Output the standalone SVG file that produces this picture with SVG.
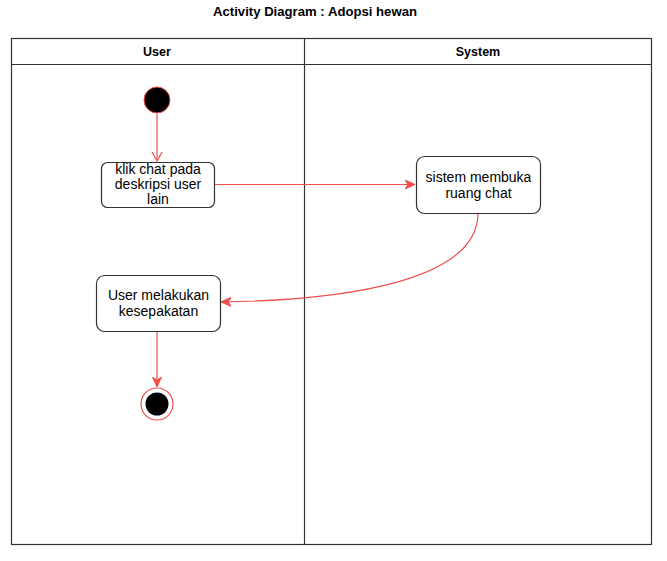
<svg xmlns="http://www.w3.org/2000/svg" width="667" height="561" viewBox="0 0 667 561">
<style>
.lane{fill:none;stroke:#333;stroke-width:1.2}
.hdr{font-family:"Liberation Sans",Arial,sans-serif;font-weight:bold;font-size:12.5px;fill:#000;text-anchor:middle}
.act{fill:#fff;stroke:#333;stroke-width:1.2}
.lbl{font-family:"Liberation Sans",Arial,sans-serif;font-size:14px;fill:#000;text-anchor:middle}
.edge{fill:none;stroke:#f24e4e;stroke-width:1.2}
</style>
<defs>
<marker id="open" markerWidth="12" markerHeight="12" refX="10" refY="6" orient="auto" markerUnits="userSpaceOnUse">
<path d="M1,1 L10,6 L1,11" fill="none" stroke="#f24e4e" stroke-width="1.2"/>
</marker>
<marker id="fill" markerWidth="12" markerHeight="12" refX="10" refY="6" orient="auto" markerUnits="userSpaceOnUse">
<path d="M0,1.5 L10,6 L0,10.5 L3,6 Z" fill="#f24e4e" stroke="#f24e4e" stroke-width="1"/>
</marker>
</defs>
<rect width="667" height="561" fill="#fff"/>
<text x="315" y="16" class="hdr" textLength="204" lengthAdjust="spacingAndGlyphs">Activity Diagram : Adopsi hewan</text>
<g id="lanes">
<rect class="lane" x="11.5" y="38.5" width="640" height="506"/>
<line class="lane" x1="11.5" y1="64.5" x2="651.5" y2="64.5"/>
<line class="lane" x1="304.5" y1="38.5" x2="304.5" y2="544.5"/>
<text x="157" y="56" class="hdr">User</text>
<text x="478" y="56" class="hdr">System</text>
</g>
<g id="edges">
<line class="edge" x1="157" y1="114" x2="157" y2="161" marker-end="url(#open)"/>
<line class="edge" x1="214" y1="184.5" x2="415" y2="184.5" marker-end="url(#fill)"/>
<path class="edge" d="M478,213 C478,280 350,300 221,302" marker-end="url(#fill)"/>
<line class="edge" x1="157" y1="331" x2="157" y2="387" marker-end="url(#fill)"/>
</g>
<g id="start">
<circle cx="157" cy="100" r="13" fill="#000" stroke="#f24e4e" stroke-width="1"/>
</g>
<g id="a1">
<rect class="act" x="101.5" y="162.5" width="113" height="45" rx="6"/>
<text class="lbl" x="158" y="174">klik chat pada</text>
<text class="lbl" x="158" y="189">deskripsi user</text>
<text class="lbl" x="158" y="204">lain</text>
</g>
<g id="a2">
<rect class="act" x="416.5" y="156.5" width="124" height="57" rx="8"/>
<text class="lbl" x="478.5" y="182">sistem membuka</text>
<text class="lbl" x="478.5" y="198">ruang chat</text>
</g>
<g id="a3">
<rect class="act" x="96.5" y="275.5" width="124" height="56" rx="8"/>
<text class="lbl" x="158.5" y="300">User melakukan</text>
<text class="lbl" x="158.5" y="316">kesepakatan</text>
</g>
<g id="end">
<circle cx="157" cy="404" r="16" fill="#fff" stroke="#f24e4e" stroke-width="1.2"/>
<circle cx="157" cy="404" r="11.5" fill="#000"/>
</g>
</svg>
